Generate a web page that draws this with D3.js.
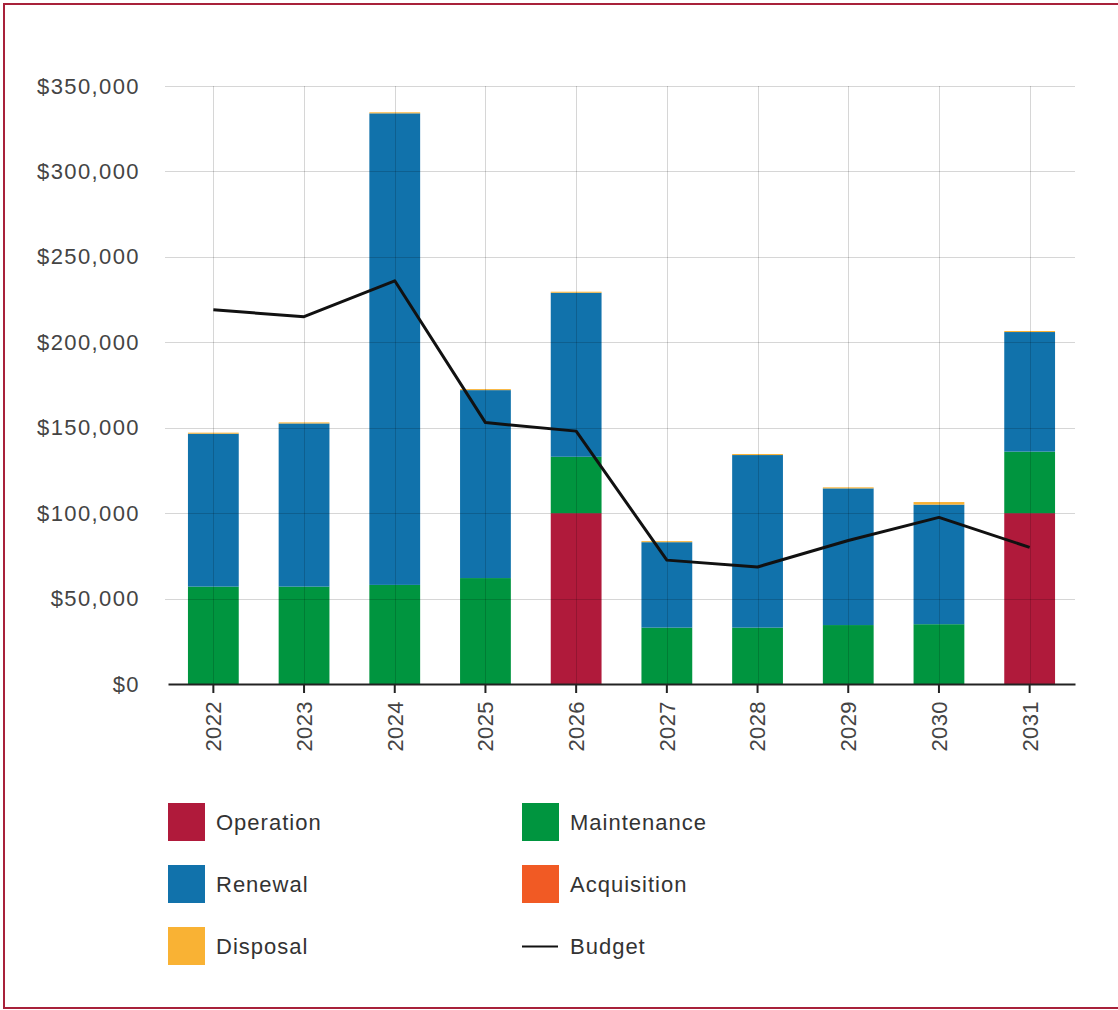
<!DOCTYPE html>
<html>
<head>
<meta charset="utf-8">
<script src="https://cdn.jsdelivr.net/npm/d3@7"></script>
<style>
  html, body { margin: 0; padding: 0; background: #fff; }
  svg { display: block; font-family: 'Liberation Sans', Arial, sans-serif; }
</style>
</head>
<body>
<div id="chart"></div>
<script>
const years = ['2022', '2023', '2024', '2025', '2026', '2027', '2028', '2029', '2030', '2031']
const operation = [0, 0, 0, 0, 100000, 0, 0, 0, 0, 100000]
const maintenance = [57000, 57000, 58000, 62000, 33000, 33000, 33000, 34500, 35000, 36000]
const renewal = [89500, 95500, 276000, 110000, 96000, 50000, 101000, 80000, 70000, 70000]
const acquisition = [0, 0, 0, 0, 0, 0, 0, 0, 0, 0]
const disposal = [600, 600, 600, 600, 600, 600, 600, 600, 1500, 600]
const budget = [219000, 215000, 236000, 153000, 148000, 72500, 68500, 84000, 97500, 80000]
const yTicks = [0, 50000, 100000, 150000, 200000, 250000, 300000, 350000]

const seriesNames = ['Operation', 'Maintenance', 'Renewal', 'Acquisition', 'Disposal']
const seriesValues = [operation, maintenance, renewal, acquisition, disposal]
const colors = ['#b01a3b', '#00953f', '#1172ab', '#f15a24', '#f9b234']

const W = 1118
const H = 1010
const margin = { top: 86, left: 168, right: 43 }
const plotH = 684 - margin.top
const plotW = W - margin.left - margin.right

const svg = d3.select('#chart').append('svg')
  .attr('width', W)
  .attr('height', H)

// frame
svg.append('path')
  .attr('d', `M${W},4 H4 V1008 H${W}`)
  .attr('fill', 'none')
  .attr('stroke', '#a8213a')
  .attr('stroke-width', 2)

const g = svg.append('g')
  .attr('transform', `translate(${margin.left},${margin.top})`)

const x = d3.scaleBand()
  .domain(years)
  .range([0, plotW])
  .paddingInner(0.44)
  .paddingOuter(0.22)

const y = d3.scaleLinear()
  .domain([0, 350000])
  .range([plotH, 0])

const table = years.map((yr, i) => {
  const row = { year: yr }
  seriesNames.forEach((s, k) => { row[s] = seriesValues[k][i] })
  return row
})
const stacked = d3.stack().keys(seriesNames)(table)

// bars
g.selectAll('.layer')
  .data(stacked)
  .enter().append('g')
  .attr('class', 'layer')
  .attr('fill', (_, i) => colors[i])
  .selectAll('rect')
  .data(d => d)
  .enter().append('rect')
  .attr('x', d => x(d.data.year))
  .attr('width', x.bandwidth())
  .attr('y', d => y(d[1]))
  .attr('height', d => y(d[0]) - y(d[1]))

// grid on top, faint
const grid = g.append('g').attr('stroke', 'rgba(0,0,0,0.16)').attr('stroke-width', 1)
grid.selectAll('.h')
  .data(yTicks.slice(1))
  .enter().append('line')
  .attr('x1', -3)
  .attr('x2', plotW)
  .attr('y1', d => Math.round(y(d)) + 0.5)
  .attr('y2', d => Math.round(y(d)) + 0.5)
grid.selectAll('.v')
  .data(years)
  .enter().append('line')
  .attr('x1', d => Math.round(x(d) + x.bandwidth() / 2) + 0.5)
  .attr('x2', d => Math.round(x(d) + x.bandwidth() / 2) + 0.5)
  .attr('y1', 0)
  .attr('y2', plotH)

// y axis labels
const yAxis = g.append('g')
  .call(d3.axisLeft(y).tickValues(yTicks).tickSize(0).tickPadding(28)
    .tickFormat(d => '$' + d3.format(',')(d)))
yAxis.select('.domain').remove()
yAxis.selectAll('text')
  .attr('fill', '#444')
  .style('font-size', '22px')
  .style('letter-spacing', '1.4px')
  .style('font-family', "'Liberation Sans', Arial, sans-serif")

// x axis
const xAxis = g.append('g')
  .attr('transform', `translate(0,${plotH})`)
  .call(d3.axisBottom(x).tickSizeInner(9).tickSizeOuter(0))
xAxis.select('.domain').attr('stroke', '#222').attr('stroke-width', 2)
xAxis.selectAll('.tick line').attr('stroke', '#222').attr('stroke-width', 2)
xAxis.selectAll('text')
  .attr('transform', 'rotate(-90)')
  .attr('x', -17)
  .attr('y', 0)
  .attr('dy', '0.36em')
  .attr('text-anchor', 'end')
  .attr('fill', '#444')
  .style('font-size', '22px')
  .style('letter-spacing', '0.4px')
  .style('font-family', "'Liberation Sans', Arial, sans-serif")

// budget line
g.append('path')
  .datum(budget)
  .attr('fill', 'none')
  .attr('stroke', '#111')
  .attr('stroke-width', 3)
  .attr('stroke-linejoin', 'round')
  .attr('d', d3.line()
    .x((_, i) => x(years[i]) + x.bandwidth() / 2)
    .y(d => y(d)))

// legend
const legendItems = [
  { key: 'Operation', color: colors[0] },
  { key: 'Maintenance', color: colors[1] },
  { key: 'Renewal', color: colors[2] },
  { key: 'Acquisition', color: colors[3] },
  { key: 'Disposal', color: colors[4] },
  { key: 'Budget', line: true }
]
const legend = svg.append('g')
  .selectAll('g')
  .data(legendItems)
  .enter().append('g')
  .attr('transform', (_, i) => `translate(${168 + (i % 2) * 354},${803 + Math.floor(i / 2) * 62})`)

legend.filter(d => !d.line).append('rect')
  .attr('width', 37)
  .attr('height', 38)
  .attr('fill', d => d.color)
legend.filter(d => d.line).append('line')
  .attr('x1', 0)
  .attr('x2', 36)
  .attr('y1', 19.5)
  .attr('y2', 19.5)
  .attr('stroke', '#111')
  .attr('stroke-width', 2)
legend.append('text')
  .attr('x', 48)
  .attr('y', 19)
  .attr('dy', '0.36em')
  .attr('fill', '#333')
  .style('font-size', '22px')
  .style('letter-spacing', '1px')
  .text(d => d.key)
</script>
</body>
</html>
